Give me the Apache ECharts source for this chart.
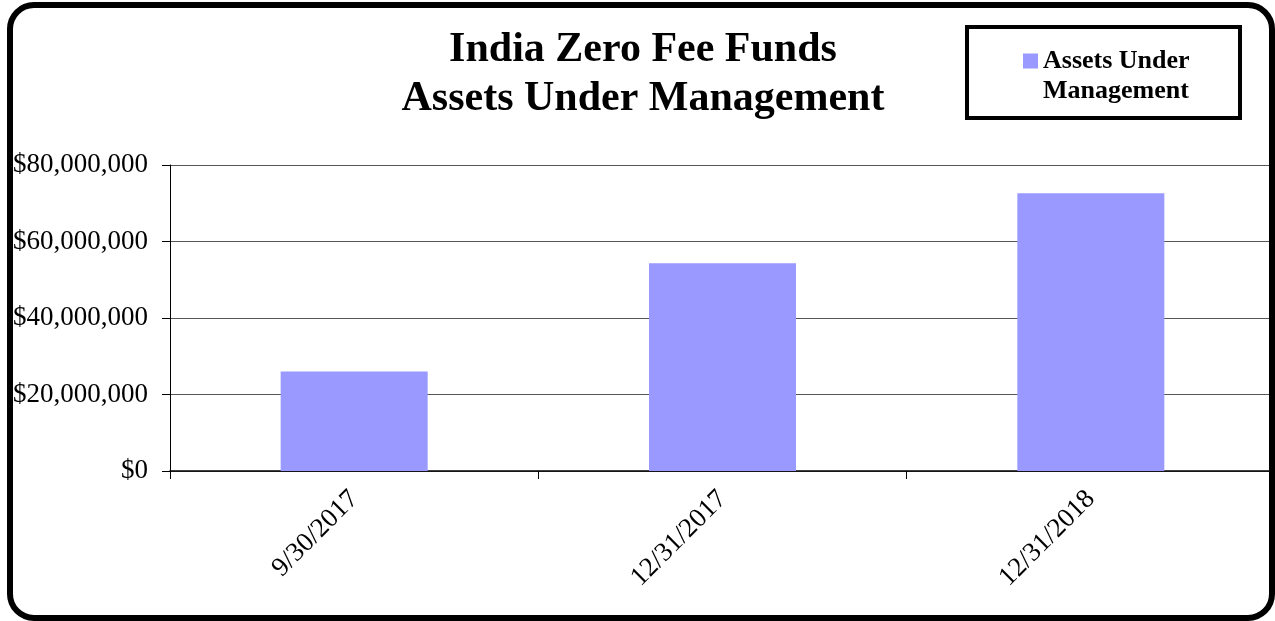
<!DOCTYPE html>
<html>
<head>
<meta charset="utf-8">
<script src="https://cdn.jsdelivr.net/npm/echarts@6/dist/echarts.min.js"></script>
<style>
  html, body { margin: 0; padding: 0; background: #fff; }
  #chart { width: 1275px; height: 621px; }
</style>
</head>
<body>
<div id="chart"></div>
<script>
// data
var categories = ['9/30/2017', '12/31/2017', '12/31/2018'];
var aumValues = [26000000, 54300000, 72600000];
var seriesName = 'Assets Under Management';
var yTicks = { min: 0, max: 80000000, interval: 20000000 };

var serif = 'Liberation Serif';

var chart = echarts.init(document.getElementById('chart'));

var option = {
  backgroundColor: '#fff',
  animation: false,
  title: {
    text: 'India Zero Fee Funds\nAssets Under Management',
    left: 643,
    top: 26,
    padding: 0,
    textAlign: 'center',
    textStyle: {
      fontFamily: serif,
      fontWeight: 'bold',
      fontSize: 42,
      lineHeight: 49,
      color: '#000'
    }
  },
  legend: {
    data: [seriesName],
    left: 1023,
    top: 46,
    padding: 0,
    itemWidth: 15,
    itemHeight: 45,
    // square sits in the top of a tall box so it lines up with the first text line
    icon: 'path://M0,0L15,0L15,15L0,15Z M0,44.9L0.01,45L0,45Z',
    formatter: function () { return 'Assets Under\nManagement'; },
    textStyle: {
      fontFamily: serif,
      fontWeight: 'bold',
      fontSize: 26,
      lineHeight: 30,
      color: '#000'
    }
  },
  grid: {
    left: 170,
    top: 165,
    width: 1107,
    height: 306,
    containLabel: false
  },
  xAxis: {
    type: 'category',
    data: categories,
    boundaryGap: true,
    axisLine: { lineStyle: { color: '#000', width: 1.5 } },
    axisTick: { show: true, length: 8, alignWithLabel: false, lineStyle: { color: '#000' } },
    axisLabel: {
      rotate: 45,
      margin: 24,
      interval: 0,
      fontFamily: serif,
      fontSize: 27,
      color: '#000'
    }
  },
  yAxis: {
    type: 'value',
    min: yTicks.min,
    max: yTicks.max,
    interval: yTicks.interval,
    axisLine: { show: true, lineStyle: { color: '#000', width: 1 } },
    axisTick: { show: true, length: 8, lineStyle: { color: '#000' } },
    splitLine: { show: true, lineStyle: { color: '#555', width: 1.2 } },
    axisLabel: {
      margin: 22,
      fontFamily: serif,
      fontSize: 27,
      color: '#000',
      formatter: function (v) { return '$' + v.toLocaleString('en-US'); }
    }
  },
  series: [
    {
      name: seriesName,
      type: 'bar',
      data: aumValues,
      barWidth: 147,
      itemStyle: { color: '#9999FF' }
    }
  ],
  graphic: [
    {
      // legend frame
      type: 'rect',
      shape: { x: 967, y: 27, width: 273, height: 91 },
      style: { fill: 'none', stroke: '#000', lineWidth: 4 },
      z: 10
    },
    {
      // outer rounded border of the chart
      type: 'rect',
      shape: { x: 10, y: 5, width: 1262, height: 613, r: 24 },
      style: { fill: 'none', stroke: '#000', lineWidth: 6 },
      z: 10
    }
  ]
};

chart.setOption(option);
</script>
</body>
</html>
